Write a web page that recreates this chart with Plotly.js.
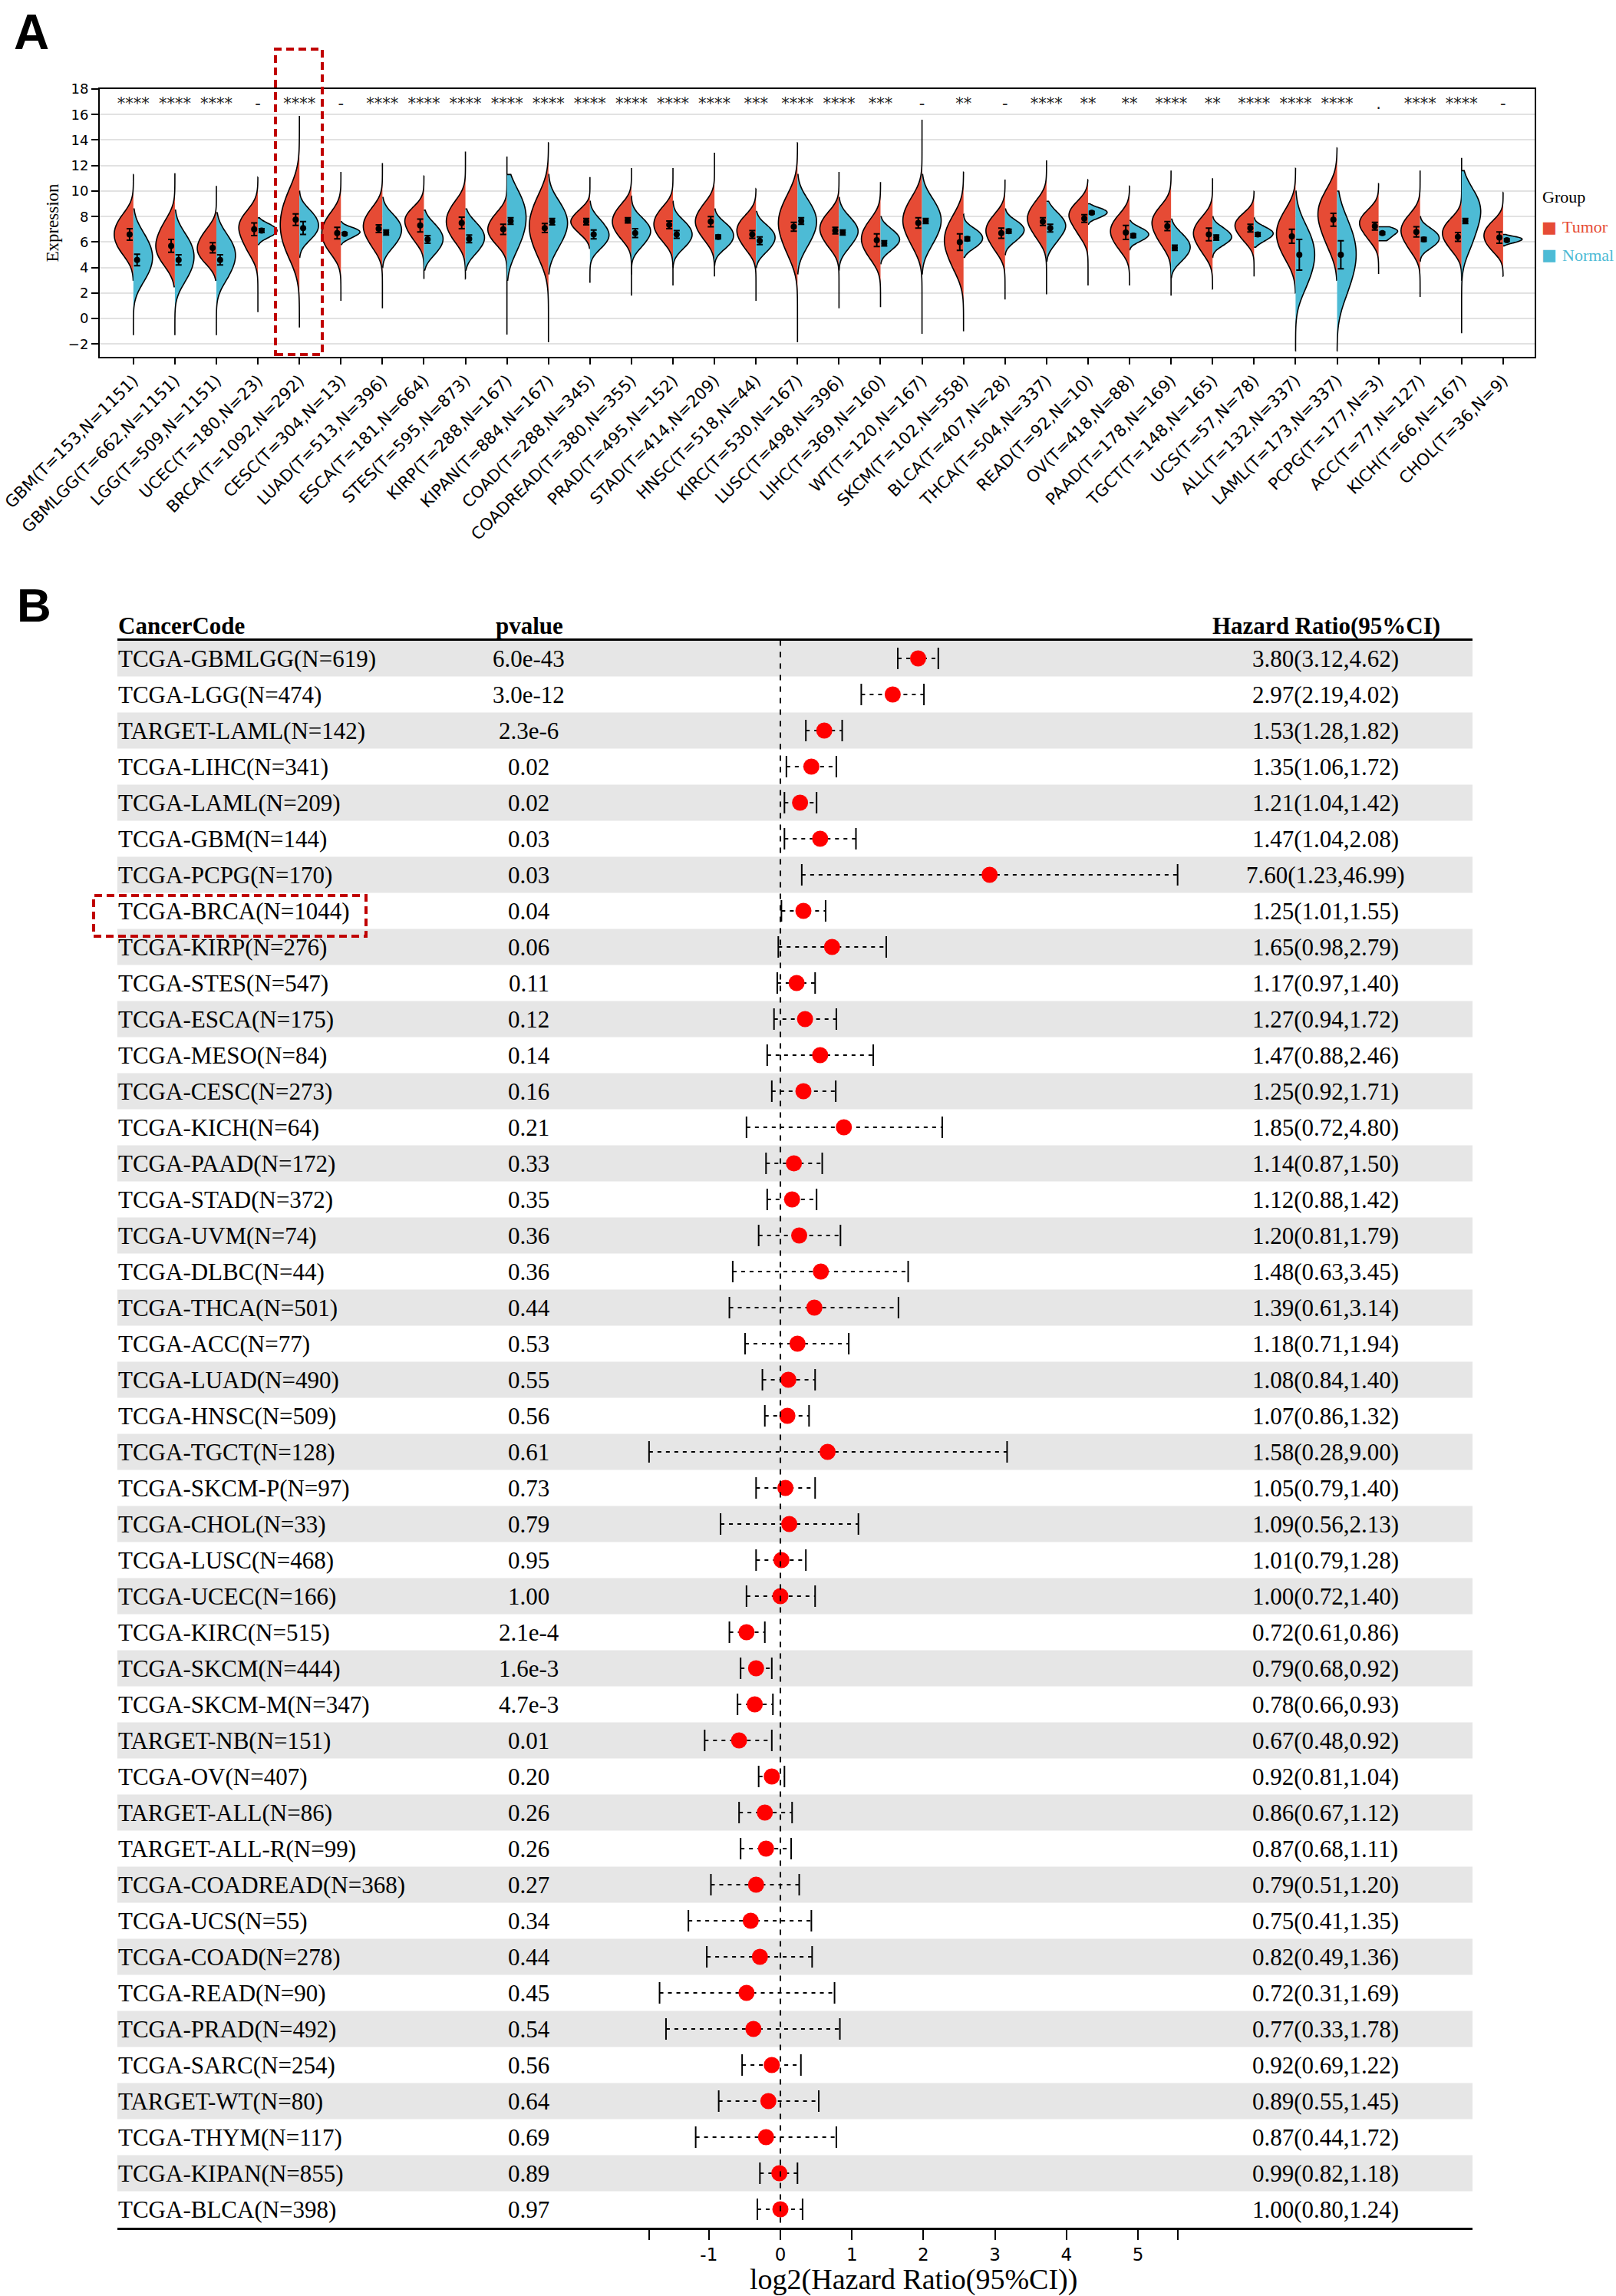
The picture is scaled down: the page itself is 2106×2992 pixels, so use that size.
<!DOCTYPE html>
<html><head><meta charset="utf-8">
<script src="https://cdn.plot.ly/plotly-3.0.1.min.js"></script>
<style>html,body{margin:0;padding:0;background:#fff}</style>
</head><body><div id="chart" style="width:2106px;height:2992px"></div>
<script>
// ---------------- Panel A data ----------------
const cancers = ['GBM','GBMLGG','LGG','UCEC','BRCA','CESC','LUAD','ESCA','STES','KIRP','KIPAN','COAD','COADREAD','PRAD','STAD','HNSC','KIRC','LUSC','LIHC','WT','SKCM','BLCA','THCA','READ','OV','PAAD','TGCT','UCS','ALL','LAML','PCPG','ACC','KICH','CHOL'];
const tumorCount = [153,662,509,180,1092,304,513,181,595,288,884,288,380,495,414,518,530,498,369,120,102,407,504,92,418,178,148,57,132,173,177,77,66,36];
const normalCount = [1151,1151,1151,23,292,13,396,664,873,167,167,345,355,152,209,44,167,396,160,167,558,28,337,10,88,169,165,78,337,337,3,127,167,9];
const signif = ['****','****','****','-','****','-','****','****','****','****','****','****','****','****','****','***','****','****','***','-','**','-','****','**','**','****','**','****','****','****','.','****','****','-'];
const groups = ['Tumor', 'Normal'];

const tumorSamples = [
 [5.2,6.0,6.6,7.2,8.0],[4.4,5.2,5.8,6.5,7.5],[4.5,5.1,5.6,6.1,6.9],[5.3,6.3,7.0,7.5,8.2],[5.1,6.4,7.4,8.4,9.8],
 [5.3,6.1,6.7,7.3,8.1],[5.7,6.6,7.2,7.7,8.5],[6.2,7.0,7.5,8.0,8.5],[6.2,7.0,7.6,8.2,9.0],[5.9,6.6,7.0,7.5,8.2],
 [5.0,6.4,7.2,8.1,9.4],[6.7,7.3,7.6,7.9,8.5],[6.4,7.1,7.6,8.1,8.8],[6.2,6.9,7.4,7.9,8.6],[6.3,7.1,7.6,8.1,8.9],
 [5.5,6.3,6.8,7.3,7.9],[5.2,6.6,7.4,8.2,9.4],[5.7,6.5,7.0,7.5,8.2],[4.8,5.7,6.2,6.8,7.6],[5.8,7.0,7.6,8.3,9.3],
 [4.0,5.3,6.0,6.8,7.8],[5.4,6.3,6.8,7.3,8.0],[6.4,7.3,7.8,8.3,9.1],[6.6,7.5,8.0,8.4,9.0],[5.5,6.3,6.8,7.3,8.0],
 [5.9,6.8,7.4,7.9,8.6],[5.2,6.1,6.6,7.1,7.8],[6.1,6.8,7.2,7.6,8.1],[4.8,5.9,6.6,7.3,8.3],[5.8,7.2,8.0,8.8,9.8],
 [6.2,7.0,7.4,7.8,8.4],[5.4,6.3,6.8,7.3,8.0],[5.4,6.2,6.6,7.1,7.7],[5.4,6.0,6.5,6.9,7.5]];
const normalSamples = [
 [3.1,4.1,4.8,5.5,6.5],[3.1,4.1,4.8,5.5,6.4],[3.2,4.2,4.9,5.5,6.4],[6.4,6.7,6.9,7.1,7.4],[6.3,6.9,7.3,7.8,8.4],
 [6.3,6.6,6.75,6.9,7.1],[5.7,6.4,6.9,7.4,8.0],[5.1,5.8,6.2,6.7,7.3],[5.2,5.9,6.3,6.8,7.4],[5.6,6.9,7.8,8.7,9.8],
 [5.7,6.8,7.4,8.1,9.0],[5.6,6.2,6.6,7.0,7.7],[5.7,6.4,6.8,7.2,7.8],[5.6,6.2,6.6,7.0,7.6],[5.6,6.1,6.5,6.9,7.4],
 [5.3,5.9,6.3,6.7,7.2],[5.8,6.9,7.5,8.2,9.1],[5.6,6.4,6.8,7.2,7.9],[5.4,5.9,6.2,6.5,7.0],[5.9,7.0,7.6,8.3,9.2],
 [5.6,6.0,6.3,6.6,7.0],[6.1,6.6,6.9,7.2,7.6],[6.0,6.8,7.2,7.6,8.2],[7.9,8.15,8.3,8.45,8.65],[6.1,6.4,6.6,6.8,7.1],
 [4.6,5.2,5.6,6.0,6.6],[5.8,6.2,6.4,6.7,7.1],[6.1,6.45,6.65,6.85,7.15],[2.6,4.0,4.9,5.8,7.0],[2.2,3.9,4.9,6.0,7.4],
 [6.3,6.85,6.95],[5.6,6.0,6.3,6.6,7.0],[5.8,7.2,8.2,8.9,9.8],[5.95,6.1,6.2,6.3,6.4]];
const tumorMin = [3.0,2.5,3.0,0.5,-0.7,1.4,0.8,3.1,3.1,-1.25,-1.85,5.5,1.8,2.6,3.3,1.4,-1.85,0.8,0.9,-1.2,-1.0,1.5,1.9,2.6,2.6,1.8,2.3,3.3,2.0,3.0,3.5,1.7,3.0,3.3];
const tumorMax = [11.3,11.4,10.4,11.1,15.9,11.5,12.2,11.2,13.1,12.7,13.8,11.1,11.8,11.8,13.0,10.2,13.8,11.5,10.7,15.6,11.5,10.9,12.4,10.9,10.4,11.6,11.0,10.0,11.8,13.4,10.6,11.6,12.6,9.9];
const normalMin = [-1.3,-1.3,-1.3,5.8,4.8,5.8,4.0,3.8,3.8,3.0,3.5,2.8,3.5,4.0,4.2,4.0,3.5,3.8,4.3,3.5,4.8,5.0,4.5,7.4,5.4,3.2,4.8,5.6,-2.55,-2.55,6.1,4.5,-1.15,5.7];
const normalMax = [8.6,8.5,8.3,7.9,10.0,7.6,9.5,8.5,8.6,11.3,11.3,9.2,9.6,9.2,8.6,8.4,11.3,9.5,8.0,11.3,8.2,8.6,9.2,9.0,7.7,7.8,8.0,7.9,10.0,10.0,7.2,8.0,11.6,6.6];
const tumorMean = [6.6,5.7,5.55,7.0,7.75,6.7,7.05,7.3,7.5,7.0,7.1,7.6,7.7,7.35,7.6,6.6,7.2,6.9,6.15,7.5,6.0,6.7,7.6,7.85,6.75,7.25,6.6,7.1,6.45,7.75,7.25,6.8,6.4,6.35];
const tumorErr = [0.45,0.5,0.4,0.5,0.45,0.45,0.3,0.5,0.45,0.4,0.35,0.25,0.2,0.3,0.4,0.3,0.35,0.25,0.5,0.4,0.65,0.4,0.3,0.3,0.55,0.35,0.5,0.3,0.55,0.5,0.3,0.4,0.35,0.45];
const normalMean = [4.6,4.6,4.6,6.9,7.1,6.65,6.75,6.2,6.25,7.65,7.6,6.6,6.7,6.6,6.4,6.1,7.65,6.75,5.9,7.65,6.25,6.85,7.1,8.3,6.5,5.55,6.35,6.6,5.0,5.0,6.7,6.2,7.65,6.15];
const normalErr = [0.45,0.4,0.4,0.15,0.5,0.1,0.2,0.3,0.3,0.25,0.25,0.35,0.35,0.3,0.15,0.3,0.25,0.2,0.2,0.2,0.15,0.15,0.3,0.1,0.15,0.2,0.2,0.15,1.2,1.1,0.1,0.15,0.2,0.1];

// ---------------- Panel B data ----------------
const cohorts = ['TCGA-GBMLGG(N=619)','TCGA-LGG(N=474)','TARGET-LAML(N=142)','TCGA-LIHC(N=341)','TCGA-LAML(N=209)','TCGA-GBM(N=144)','TCGA-PCPG(N=170)','TCGA-BRCA(N=1044)','TCGA-KIRP(N=276)','TCGA-STES(N=547)','TCGA-ESCA(N=175)','TCGA-MESO(N=84)','TCGA-CESC(N=273)','TCGA-KICH(N=64)','TCGA-PAAD(N=172)','TCGA-STAD(N=372)','TCGA-UVM(N=74)','TCGA-DLBC(N=44)','TCGA-THCA(N=501)','TCGA-ACC(N=77)','TCGA-LUAD(N=490)','TCGA-HNSC(N=509)','TCGA-TGCT(N=128)','TCGA-SKCM-P(N=97)','TCGA-CHOL(N=33)','TCGA-LUSC(N=468)','TCGA-UCEC(N=166)','TCGA-KIRC(N=515)','TCGA-SKCM(N=444)','TCGA-SKCM-M(N=347)','TARGET-NB(N=151)','TCGA-OV(N=407)','TARGET-ALL(N=86)','TARGET-ALL-R(N=99)','TCGA-COADREAD(N=368)','TCGA-UCS(N=55)','TCGA-COAD(N=278)','TCGA-READ(N=90)','TCGA-PRAD(N=492)','TCGA-SARC(N=254)','TARGET-WT(N=80)','TCGA-THYM(N=117)','TCGA-KIPAN(N=855)','TCGA-BLCA(N=398)'];
const pvalues = ['6.0e-43','3.0e-12','2.3e-6','0.02','0.02','0.03','0.03','0.04','0.06','0.11','0.12','0.14','0.16','0.21','0.33','0.35','0.36','0.36','0.44','0.53','0.55','0.56','0.61','0.73','0.79','0.95','1.00','2.1e-4','1.6e-3','4.7e-3','0.01','0.20','0.26','0.26','0.27','0.34','0.44','0.45','0.54','0.56','0.64','0.69','0.89','0.97'];
const hr = [3.80,2.97,1.53,1.35,1.21,1.47,7.60,1.25,1.65,1.17,1.27,1.47,1.25,1.85,1.14,1.12,1.20,1.48,1.39,1.18,1.08,1.07,1.58,1.05,1.09,1.01,1.00,0.72,0.79,0.78,0.67,0.92,0.86,0.87,0.79,0.75,0.82,0.72,0.77,0.92,0.89,0.87,0.99,1.00];
const hrLow = [3.12,2.19,1.28,1.06,1.04,1.04,1.23,1.01,0.98,0.97,0.94,0.88,0.92,0.72,0.87,0.88,0.81,0.63,0.61,0.71,0.84,0.86,0.28,0.79,0.56,0.79,0.72,0.61,0.68,0.66,0.48,0.81,0.67,0.68,0.51,0.41,0.49,0.31,0.33,0.69,0.55,0.44,0.82,0.80];
const hrHigh = [4.62,4.02,1.82,1.72,1.42,2.08,46.99,1.55,2.79,1.40,1.72,2.46,1.71,4.80,1.50,1.42,1.79,3.45,3.14,1.94,1.40,1.32,9.00,1.40,2.13,1.28,1.40,0.86,0.92,0.93,0.92,1.04,1.12,1.11,1.20,1.35,1.36,1.69,1.78,1.22,1.45,1.72,1.18,1.24];
const axisTicks = [-1,0,1,2,3,4,5];

// ---------------- styles / layout helpers ----------------
const W = 2106, H = 2992;
const px = v => v / W, py = v => 1 - v / H;
const RED = '#E64B35', BLUE = '#4DBBD5';
const groupColors = [RED, BLUE];
const SERIF = 'Liberation Serif, Times New Roman, serif';
const SANS = 'DejaVu Sans, sans-serif';

const traces = [];
const labels = cancers.map((c, i) => `${c}(T=${tumorCount[i]},N=${normalCount[i]})`);
const idx = cancers.map((c, i) => i);

cancers.forEach((c, i) => {
  const common = {type: 'violin', width: 0.92, scalemode: 'width', spanmode: 'manual',
    line: {color: '#000', width: 1.6}, points: false, box: {visible: false},
    meanline: {visible: false}, showlegend: false, hoverinfo: 'skip', xaxis: 'x', yaxis: 'y'};
  traces.push(Object.assign({}, common, {x: tumorSamples[i].map(() => i), y: tumorSamples[i], name: groups[0],
    side: 'negative', span: [tumorMin[i], tumorMax[i]], fillcolor: RED}));
  traces.push(Object.assign({}, common, {x: normalSamples[i].map(() => i), y: normalSamples[i], name: groups[1],
    side: 'positive', span: [normalMin[i], normalMax[i]], fillcolor: BLUE}));
});

traces.push({type: 'scatter', mode: 'markers', x: idx.map(i => i - 0.09), y: tumorMean,
  marker: {color: '#000', size: 8}, error_y: {type: 'data', array: tumorErr, color: '#000', thickness: 2, width: 4},
  showlegend: false, hoverinfo: 'skip', xaxis: 'x', yaxis: 'y'});
traces.push({type: 'scatter', mode: 'markers', x: idx.map(i => i + 0.09), y: normalMean,
  marker: {color: '#000', size: 8}, error_y: {type: 'data', array: normalErr, color: '#000', thickness: 2, width: 4},
  showlegend: false, hoverinfo: 'skip', xaxis: 'x', yaxis: 'y'});
traces.push({type: 'scatter', mode: 'text', x: idx, y: idx.map(() => 16.75), text: signif,
  textfont: {family: SANS, size: 21, color: '#222'}, textposition: 'middle center',
  showlegend: false, hoverinfo: 'skip', xaxis: 'x', yaxis: 'y'});

// ---------------- Panel B traces ----------------
const lhr = hr.map(Math.log2), llo = hrLow.map(Math.log2), lhi = hrHigh.map(Math.log2);
const rows = cohorts.map((c, i) => i);
const ciX = [], ciY = [];
rows.forEach(i => { ciX.push(llo[i], lhi[i], null); ciY.push(i, i, null); });
traces.push({type: 'scatter', mode: 'lines', x: ciX, y: ciY, line: {color: '#000', width: 2, dash: '5px,6px'},
  showlegend: false, hoverinfo: 'skip', xaxis: 'x2', yaxis: 'y2'});
traces.push({type: 'scatter', mode: 'markers', x: llo.concat(lhi), y: rows.concat(rows),
  marker: {symbol: 'line-ns-open', size: 20, color: '#000', line: {color: '#000', width: 2}},
  showlegend: false, hoverinfo: 'skip', xaxis: 'x2', yaxis: 'y2'});
traces.push({type: 'scatter', mode: 'markers', x: lhr, y: rows,
  marker: {color: '#FF0000', size: 21}, showlegend: false, hoverinfo: 'skip', xaxis: 'x2', yaxis: 'y2'});

const ciMin = Math.min(...llo), ciMax = Math.max(...lhi);

const shapes = [];
rows.forEach(i => {
  if (i % 2 === 0) shapes.push({type: 'rect', xref: 'x2', yref: 'y2', x0: -9.275, x1: 9.678,
    y0: i - 0.5, y1: i + 0.5, fillcolor: '#E6E6E6', line: {width: 0}, layer: 'below'});
});
shapes.push({type: 'line', xref: 'x2', yref: 'y2', x0: 0, x1: 0, y0: -0.5, y1: 43.5,
  line: {color: '#000', width: 2, dash: '7px,8px'}});
// highlight boxes
shapes.push({type: 'rect', xref: 'paper', yref: 'paper', x0: px(359), x1: px(420), y0: py(462), y1: py(64),
  line: {color: '#C00000', width: 4, dash: '10px,6px'}});
shapes.push({type: 'rect', xref: 'paper', yref: 'paper', x0: px(122), x1: px(477), y0: py(1220), y1: py(1167),
  line: {color: '#C00000', width: 4, dash: '10px,6px'}});

const annotations = [];
annotations.push({xref: 'paper', yref: 'paper', x: px(16), y: py(42), xanchor: 'left', yanchor: 'middle',
  text: '<b>A</b>', showarrow: false, font: {family: 'Liberation Sans, Arial, sans-serif', size: 64, color: '#000'}});
annotations.push({xref: 'paper', yref: 'paper', x: px(20), y: py(788), xanchor: 'left', yanchor: 'middle',
  text: '<b>B</b>', showarrow: false, font: {family: 'Liberation Sans, Arial, sans-serif', size: 62, color: '#000'}});

// legend (Group)
annotations.push({xref: 'paper', yref: 'paper', x: px(2008), y: py(256), xanchor: 'left', yanchor: 'middle',
  text: 'Group', showarrow: false, font: {family: SERIF, size: 22, color: '#000'}});
groups.forEach((g, k) => {
  const yy = py(296 + 36 * k);
  annotations.push({xref: 'paper', yref: 'paper', x: px(2007), y: yy, xanchor: 'left', yanchor: 'middle',
    text: '■', showarrow: false, font: {family: SANS, size: 21, color: groupColors[k]}});
  annotations.push({xref: 'paper', yref: 'paper', x: px(2034), y: yy, xanchor: 'left', yanchor: 'middle',
    text: g, showarrow: false, font: {family: SERIF, size: 22, color: groupColors[k]}});
});

const hdrFont = {family: SERIF, size: 31, color: '#000'};
annotations.push({xref: 'paper', yref: 'paper', x: px(152), y: py(815), xanchor: 'left', yanchor: 'middle', text: '<b>CancerCode</b>', showarrow: false, font: hdrFont});
annotations.push({xref: 'paper', yref: 'paper', x: px(690), y: py(815), xanchor: 'center', yanchor: 'middle', text: '<b>pvalue</b>', showarrow: false, font: hdrFont});
annotations.push({xref: 'paper', yref: 'paper', x: px(1728), y: py(815), xanchor: 'center', yanchor: 'middle', text: '<b>Hazard Ratio(95%CI)</b>', showarrow: false, font: hdrFont});
const rowFont = {family: SERIF, size: 31, color: '#000'};
rows.forEach(i => {
  annotations.push({xref: 'paper', yref: 'y2', x: px(152), y: i, xanchor: 'left', yanchor: 'middle', text: cohorts[i], showarrow: false, font: rowFont});
  annotations.push({xref: 'paper', yref: 'y2', x: px(689), y: i, xanchor: 'center', yanchor: 'middle', text: pvalues[i], showarrow: false, font: rowFont});
  annotations.push({xref: 'paper', yref: 'y2', x: px(1727), y: i, xanchor: 'center', yanchor: 'middle',
    text: `${hr[i].toFixed(2)}(${hrLow[i].toFixed(2)},${hrHigh[i].toFixed(2)})`, showarrow: false, font: rowFont});
});
annotations.push({xref: 'x2', yref: 'paper', x: (ciMin + ciMax) / 2, y: py(2970), xanchor: 'center', yanchor: 'middle',
  text: 'log2(Hazard Ratio(95%CI))', showarrow: false, font: {family: SERIF, size: 38, color: '#000'}});

const layout = {
  width: W, height: H, margin: {l: 0, r: 0, t: 0, b: 0, autoexpand: false}, paper_bgcolor: '#fff', plot_bgcolor: 'rgba(0,0,0,0)',
  violinmode: 'overlay', violingap: 0, violingroupgap: 0, showlegend: false,
  xaxis: {domain: [px(130), px(2000)], range: [-0.81, 33.76], anchor: 'y', tickmode: 'array', tickvals: idx, ticktext: labels,
    tickangle: -45, tickfont: {family: SANS, size: 21.5, color: '#000'}, ticks: 'outside', ticklen: 8, tickwidth: 2, tickcolor: '#000',
    ticklabeloverflow: 'allow', automargin: false,
    showline: true, linewidth: 2, linecolor: '#000', mirror: true, showgrid: false, zeroline: false},
  yaxis: {domain: [py(465), py(116)], range: [-3, 18], anchor: 'x', tickmode: 'array', tickvals: [-2,0,2,4,6,8,10,12,14,16,18],
    tickfont: {family: SANS, size: 18, color: '#000'}, ticks: 'outside', ticklen: 9, tickwidth: 2, tickcolor: '#000', automargin: false,
    showline: true, linewidth: 2, linecolor: '#000', mirror: true, showgrid: true, gridcolor: '#E2E2E2', gridwidth: 2, zeroline: false,
    title: {text: 'Expression', font: {family: SERIF, size: 23, color: '#000'}, standoff: 6}},
  xaxis2: {domain: [px(152.6), px(1919)], range: [-9.275, 9.678], anchor: 'y2', tickmode: 'array', automargin: false,
    tickvals: [ciMin].concat(axisTicks, [ciMax]), ticktext: [''].concat(axisTicks.map(String), ['']),
    tickfont: {family: SANS, size: 23, color: '#000'}, ticks: 'outside', ticklen: 13, tickwidth: 2, tickcolor: '#000',
    showline: true, linewidth: 3, linecolor: '#000', mirror: true, showgrid: false, zeroline: false},
  yaxis2: {domain: [py(2902.5), py(834.5)], range: [43.5, -0.5], anchor: 'x2', showticklabels: false, ticks: '',
    showgrid: false, zeroline: false, showline: false, automargin: false},
  shapes: shapes, annotations: annotations
};

Plotly.newPlot('chart', traces, layout, {staticPlot: true, displayModeBar: false});
</script></body></html>
